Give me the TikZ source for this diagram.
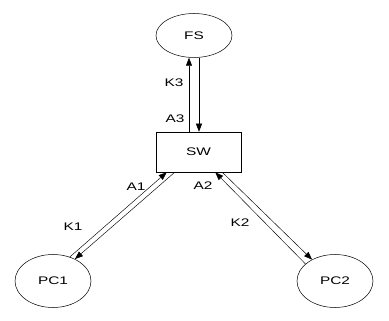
\documentclass[tikz,border=0pt]{standalone}
\usepackage{fontspec}
\usepackage{graphicx}
\setmainfont{Liberation Sans}
\usetikzlibrary{arrows.meta,shapes.geometric}
\newcommand{\widetxt}[1]{\scalebox{1.4}[1]{#1}}
\begin{document}
\begin{tikzpicture}[x=1pt,y=-1pt,
  every node/.style={font=\fontsize{11}{13}\selectfont},
  ell/.style={draw,ellipse,line width=0.5pt,minimum width=76pt,minimum height=53pt,inner sep=0pt},
  box/.style={draw,rectangle,line width=0.5pt,minimum width=85pt,minimum height=40pt,inner sep=0pt},
  arr/.style={line width=0.45pt,-{Triangle[length=8pt,width=6pt]}},
  lbl/.style={inner sep=0pt}]
\useasboundingbox (0,0) rectangle (389,321);
\node[ell,minimum height=44pt] (fs) at (194,35.5) {\widetxt{FS}};
\node[box] (sw) at (198.5,152) {\widetxt{SW}};
\node[ell] (pc1) at (53,281) {\widetxt{PC1}};
\node[ell] (pc2) at (335,281) {\widetxt{PC2}};
% SW <-> FS
\draw[arr] ([xshift=-9.5pt]sw.north) -- ([xshift=-9.5pt]sw.north |- fs.south);
\draw[arr] ([xshift=0.5pt]sw.north |- fs.south) -- ([xshift=0.5pt]sw.north);
% SW <-> PC1
\draw[arr] (pc1.55) -- ([xshift=11pt]sw.south west);
\draw[arr] ([xshift=19pt]sw.south west) -- (pc1.45);
% SW <-> PC2
\draw[arr] (pc2.150) -- ([xshift=-26pt]sw.south east);
\draw[arr] ([xshift=-19pt]sw.south east) -- (pc2.137);
% labels
\node[lbl] (k3) at (174,83) {\widetxt{K3}};
\node[lbl] (a3) at (175,119) {\widetxt{A3}};
\node[lbl] (a1) at (136,187) {\widetxt{A1}};
\node[lbl] (k1) at (73,227) {\widetxt{K1}};
\node[lbl] (a2) at (203,186) {\widetxt{A2}};
\node[lbl] (k2) at (240,223) {\widetxt{K2}};
\end{tikzpicture}
\end{document}
